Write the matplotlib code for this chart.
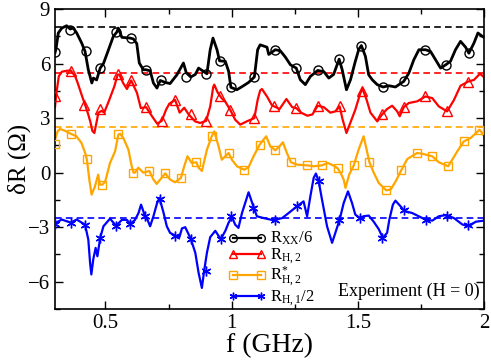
import matplotlib
matplotlib.use("Agg")
import matplotlib.pyplot as plt
from matplotlib.ticker import MultipleLocator

plt.rcParams['font.family'] = ['Liberation Serif', 'DejaVu Serif']
plt.rcParams['mathtext.fontset'] = 'custom'
plt.rcParams['mathtext.rm'] = 'Liberation Serif'
plt.rcParams['mathtext.it'] = 'Liberation Serif:italic'

# R_xx / 6 (black, noisy trace, centre line)
rxx_f = [0.300, 0.304, 0.313, 0.327, 0.346, 0.360, 0.373, 0.386, 0.406, 0.419, 0.432, 0.446,
         0.452, 0.465, 0.479, 0.492, 0.512, 0.531, 0.545, 0.551, 0.565, 0.598, 0.611, 0.624,
         0.634, 0.650, 0.660, 0.677, 0.690, 0.704, 0.717, 0.737, 0.756, 0.783, 0.809, 0.820,
         0.838, 0.856, 0.869, 0.902, 0.915, 0.926, 0.942, 0.952, 0.975, 0.988, 0.997, 1.021,
         1.047, 1.067, 1.090, 1.103, 1.113, 1.140, 1.147, 1.173, 1.193, 1.213, 1.233, 1.256,
         1.272, 1.292, 1.312, 1.341, 1.365, 1.385, 1.404, 1.426, 1.438, 1.455, 1.471, 1.490,
         1.504, 1.514, 1.530, 1.543, 1.557, 1.577, 1.600, 1.623, 1.649, 1.682, 1.702, 1.722,
         1.742, 1.768, 1.788, 1.808, 1.828, 1.848, 1.867, 1.887, 1.907, 1.927, 1.940, 1.960,
         1.976, 1.993, 2.000]
rxx_v = [6.6, 6.8, 7.68, 7.95, 8.08, 7.9, 7.95, 7.68, 7.12, 6.67, 5.66, 4.93,
         5.2, 5.1, 5.75, 6.0, 6.76, 7.49, 7.73, 7.95, 7.44, 7.4, 7.35, 7.1,
         6.03, 5.66, 5.66, 5.6, 4.93, 4.65, 5.07, 4.96, 4.9, 5.38, 6.03, 5.5,
         5.26, 5.4, 5.75, 5.44, 6.76, 7.4, 6.76, 6.15, 6.12, 5.57, 4.69, 4.56,
         4.78, 4.96, 5.26, 6.76, 7.03, 6.9, 6.5, 6.76, 6.7, 6.35, 5.93, 5.75,
         5.11, 4.84, 5.29, 5.62, 5.56, 5.2, 5.4, 6.24, 5.66, 4.56, 5.11, 6.12,
         6.79, 6.99, 6.4, 5.38, 5.11, 4.84, 4.71, 4.78, 4.71, 5.02, 5.47, 6.21,
         6.76, 6.76, 6.67, 6.21, 5.75, 5.93, 6.12, 6.76, 7.22, 6.9, 6.57, 7.12,
         7.68, 7.5, 7.44]
rxx_mf = [0.300, 0.360, 0.421, 0.479, 0.543, 0.600, 0.660, 0.720, 0.820, 0.899, 0.952, 0.997,
          1.090, 1.173, 1.256, 1.341, 1.426, 1.514, 1.600, 1.682, 1.768, 1.848, 1.940]
rxx_mv = [6.61, 7.85, 6.67, 5.75, 7.73, 7.4, 5.66, 5.07, 5.26, 5.44, 6.15, 4.69,
          5.26, 6.76, 5.75, 5.62, 6.24, 6.99, 4.71, 5.02, 6.76, 5.93, 6.57]

# R_H,2 (red)
rh2_f = [0.300, 0.305, 0.315, 0.327, 0.345, 0.362, 0.380, 0.390, 0.405, 0.415, 0.430, 0.440,
         0.448, 0.456, 0.465, 0.472, 0.485, 0.495, 0.515, 0.535, 0.548, 0.555, 0.570, 0.585,
         0.602, 0.625, 0.640, 0.661, 0.685, 0.705, 0.723, 0.740, 0.753, 0.776, 0.794, 0.812,
         0.830, 0.855, 0.875, 0.899, 0.915, 0.927, 0.931, 0.945, 0.960, 0.975, 0.994, 1.014,
         1.034, 1.060, 1.090, 1.103, 1.113, 1.120, 1.140, 1.160, 1.190, 1.217, 1.240, 1.256,
         1.275, 1.300, 1.320, 1.341, 1.365, 1.391, 1.411, 1.428, 1.440, 1.455, 1.470, 1.490,
         1.510, 1.519, 1.535, 1.550, 1.577, 1.596, 1.616, 1.636, 1.656, 1.666, 1.682, 1.702,
         1.735, 1.768, 1.795, 1.821, 1.854, 1.881, 1.907, 1.936, 1.960, 1.984, 2.000]
rh2_v = [3.6, 4.3, 5.3, 5.55, 5.6, 5.62, 5.3, 4.93, 4.3, 3.9, 3.28, 2.8,
         2.3, 2.18, 2.8, 3.3, 3.4, 3.3, 4.0, 4.74, 5.38, 5.4, 4.93, 4.6,
         5.07, 4.38, 3.55, 3.6, 3.09, 2.69, 2.85, 3.46, 3.79, 4.0, 3.3, 3.57,
         3.2, 2.82, 2.73, 2.85, 3.64, 4.71, 4.84, 4.4, 4.1, 3.9, 3.46, 2.91,
         2.64, 2.82, 3.0, 4.0, 4.52, 4.6, 4.19, 3.7, 3.5, 4.05, 3.6, 3.55,
         3.3, 3.13, 3.2, 3.68, 3.6, 3.3, 3.37, 3.64, 2.91, 2.18, 2.73, 3.46,
         4.38, 4.6, 4.0, 3.3, 2.82, 3.2, 3.5, 3.68, 3.37, 3.1, 3.6, 3.83,
         3.92, 4.19, 4.1, 3.64, 3.37, 4.0, 4.78, 5.0, 5.1, 5.44, 5.25]
rh2_mf = [0.300, 0.362, 0.415, 0.479, 0.551, 0.602, 0.661, 0.723, 0.776, 0.838, 0.899, 0.955,
          0.994, 1.090, 1.166, 1.256, 1.341, 1.428, 1.516, 1.596, 1.682, 1.768, 1.854, 1.936]
rh2_mv = [4.23, 5.6, 3.71, 3.52, 5.44, 5.07, 3.6, 2.82, 4.0, 3.2, 2.85, 4.23,
          3.46, 3.0, 3.64, 3.55, 3.68, 3.64, 4.5, 3.2, 3.6, 4.19, 3.37, 5.0]

# R*_H,2 (orange)
rs_f = [0.300, 0.310, 0.320, 0.340, 0.362, 0.385, 0.405, 0.419, 0.426, 0.436, 0.445, 0.458,
        0.471, 0.478, 0.488, 0.499, 0.518, 0.538, 0.551, 0.558, 0.571, 0.591, 0.604, 0.611,
        0.617, 0.630, 0.650, 0.674, 0.690, 0.703, 0.717, 0.737, 0.756, 0.776, 0.799, 0.812,
        0.825, 0.842, 0.860, 0.869, 0.882, 0.902, 0.922, 0.931, 0.948, 0.961, 0.988, 1.001,
        1.021, 1.050, 1.067, 1.087, 1.111, 1.137, 1.153, 1.173, 1.190, 1.203, 1.219, 1.235,
        1.259, 1.299, 1.325, 1.358, 1.381, 1.402, 1.420, 1.431, 1.444, 1.451, 1.466, 1.484,
        1.503, 1.523, 1.546, 1.563, 1.583, 1.603, 1.612, 1.630, 1.650, 1.672, 1.696, 1.735,
        1.755, 1.795, 1.821, 1.858, 1.874, 1.894, 1.920, 1.947, 1.982, 1.993, 2.000]
rs_v = [1.8, 2.27, 2.4, 2.3, 2.14, 2.0, 1.63, 1.1, 0.75, -0.38, -1.21, -0.77,
        -0.11, -0.66, -0.66, -0.48, 0.53, 1.17, 2.09, 2.14, 1.9, 1.26, 0.35, 0.0,
        0.0, 0.27, 0.0, 0.09, -0.38, -0.62, -0.38, -0.04, -0.38, -0.53, -0.29, 0.35,
        0.9, 0.53, 0.57, 0.27, 0.09, 1.26, 2.03, 2.27, 1.45, 0.71, 1.08, 0.71,
        0.35, 0.16, 0.3, 0.9, 1.54, 2.0, 1.45, 1.23, 1.45, 1.67, 1.08, 0.57,
        0.44, 0.4, 0.35, 0.4, 0.53, 0.4, 0.24, 0.0, -0.38, -0.84, -0.1, 0.4,
        1.26, 2.0, 0.57, 0.0, -0.57, -0.84, -0.97, -0.93, -0.48, 0.13, 0.75, 1.08,
        1.04, 0.9, 0.57, 0.35, 0.71, 1.17, 1.72, 1.9, 2.36, 2.18, 2.0]
rs_mf = [0.300, 0.362, 0.426, 0.488, 0.551, 0.610, 0.674, 0.735, 0.799, 0.860, 0.922, 0.988,
         1.050, 1.111, 1.173, 1.235, 1.299, 1.358, 1.420, 1.484, 1.546, 1.612, 1.672, 1.735,
         1.795, 1.858, 1.920, 1.982]
rs_mv = [1.58, 2.14, 0.75, -0.66, 2.14, 0.0, 0.09, -0.04, -0.29, 0.57, 2.03, 1.08,
         0.16, 1.54, 1.23, 0.57, 0.4, 0.4, 0.24, 0.4, 0.57, -0.97, 0.13, 1.08,
         0.9, 0.35, 1.72, 2.36]

# R_H,1 / 2 (blue)
rh1_f = [0.300, 0.304, 0.327, 0.362, 0.386, 0.419, 0.432, 0.439, 0.444, 0.452, 0.461, 0.468,
         0.479, 0.492, 0.518, 0.542, 0.565, 0.585, 0.598, 0.617, 0.631, 0.641, 0.657, 0.666,
         0.677, 0.690, 0.704, 0.714, 0.730, 0.743, 0.756, 0.776, 0.793, 0.803, 0.816, 0.838,
         0.856, 0.869, 0.882, 0.891, 0.902, 0.915, 0.935, 0.957, 0.975, 0.988, 1.001, 1.014,
         1.027, 1.041, 1.058, 1.067, 1.087, 1.100, 1.127, 1.166, 1.200, 1.226, 1.259, 1.285,
         1.299, 1.312, 1.325, 1.334, 1.345, 1.358, 1.378, 1.398, 1.411, 1.428, 1.444, 1.461,
         1.477, 1.490, 1.508, 1.523, 1.543, 1.563, 1.583, 1.599, 1.616, 1.625, 1.639, 1.649,
         1.669, 1.686, 1.715, 1.768, 1.795, 1.821, 1.850, 1.881, 1.914, 1.940, 1.967, 2.000]
rh1_v = [-2.8, -2.75, -2.58, -2.75, -2.58, -2.86, -3.68, -4.96, -5.6, -4.74, -4.14, -4.6,
         -3.59, -2.95, -2.53, -2.92, -2.6, -2.6, -2.82, -2.6, -2.22, -1.76, -2.4, -2.58,
         -2.95, -2.4, -1.7, -1.39, -2.2, -2.95, -3.31, -3.46, -3.55, -3.07, -3.0, -3.64,
         -4.41, -5.51, -6.34, -5.4, -4.41, -3.55, -3.2, -3.66, -3.2, -2.75, -2.44, -2.86,
         -3.04, -2.22, -1.48, -1.08, -1.89, -2.4, -2.5, -2.62, -2.5, -2.22, -1.85, -1.58,
         -2.4, -1.3, -0.29, -0.05, -0.48, -1.48, -2.95, -3.86, -3.31, -2.58, -1.67, -1.03,
         -1.67, -2.31, -2.49, -2.4, -2.36, -2.7, -3.11, -3.59, -3.31, -2.58, -1.76, -1.54,
         -1.85, -2.12, -2.22, -2.58, -2.64, -2.4, -2.33, -2.5, -2.85, -2.95, -2.7, -2.64]
rh1_mf = [0.300, 0.362, 0.419, 0.479, 0.542, 0.598, 0.657, 0.716, 0.776, 0.838, 0.897, 0.957,
          0.999, 1.085, 1.170, 1.259, 1.345, 1.426, 1.509, 1.597, 1.684, 1.770, 1.852, 1.936]
rh1_mv = [-2.8, -2.75, -2.86, -3.59, -2.92, -2.82, -2.4, -1.45, -3.46, -3.64, -5.4, -3.66,
          -2.4, -1.95, -2.62, -1.83, -0.48, -2.62, -2.49, -3.59, -2.06, -2.6, -2.37, -2.9]

# reference levels (dashed)
levels = [8.0, 5.5, 2.5, -2.5]
labels = ['R$_{\\rm XX}$/6', 'R$_{\\rm H,2}$', 'R$^{*}_{\\rm H,2}$', 'R$_{\\rm H,1}$/2']
colors = ['black', '#ff0000', '#ffa500', '#0000ff']
markers = ['o', '^', 's', (6, 2, 0)]

fig = plt.figure(figsize=(4.91, 3.62), dpi=100)
ax = fig.add_axes([55 / 491, 1 - 309 / 362, 429 / 491, 300 / 362])

for lv, c in zip(levels, colors):
    ax.axhline(lv, color=c, lw=1.2, ls=(0, (4, 2.5)), zorder=1)

series = [
    (rxx_f, rxx_v, rxx_mf, rxx_mv, 6.5, 2.0),
    (rh2_f, rh2_v, rh2_mf, rh2_mv, 6.5, 1.6),
    (rs_f, rs_v, rs_mf, rs_mv, 5.5, 1.6),
    (rh1_f, rh1_v, rh1_mf, rh1_mv, 7, 1.6),
]
for (xf, yv, mf, mv, ms, lw), c, mk in zip(series, colors, markers):
    ax.plot(xf, yv, color=c, lw=lw, zorder=2)
    mfc = c if mk == (6, 2, 0) else 'none'
    ax.plot(mf, mv, ls='none', marker=mk, ms=ms, mfc=mfc, mec=c, mew=1.0, zorder=3)

# legend drawn by hand so the rows sit where the original has them
leg_rows = [0.238, 0.182, 0.112, 0.044]
for yr, c, mk, lab in zip(leg_rows, colors, markers, labels):
    mfc = c if mk == (6, 2, 0) else 'none'
    ax.plot([0.415, 0.48], [yr, yr], transform=ax.transAxes, color=c, lw=1.6,
            marker=mk, ms=5.5, mfc=mfc, mec=c, mew=1.0, zorder=4, clip_on=False)
    ax.text(0.50, yr - 0.017, lab, transform=ax.transAxes, fontsize=12,
            ha='left', va='baseline', zorder=4)

ax.set_xlim(0.3, 2.0)
ax.set_ylim(-7.5, 9)
ax.xaxis.set_minor_locator(MultipleLocator(0.25))
ax.yaxis.set_major_locator(MultipleLocator(3))
ax.yaxis.set_minor_locator(MultipleLocator(1.5))
ax.set_xticks([0.5, 1, 1.5, 2])
ax.set_xticklabels(['0.5', '1', '1.5', '2'])
ax.tick_params(which='both', direction='in', top=True, right=True, labelsize=15)
ax.tick_params(which='major', length=6, width=1)
ax.tick_params(which='minor', length=3.5, width=1)
for s in ax.spines.values():
    s.set_linewidth(1.2)

ax.set_xlabel('f (GHz)', fontsize=20, labelpad=0)
ax.set_ylabel('δR (Ω)', fontsize=18, labelpad=-2)

ax.text(0.99, 0.045, 'Experiment (H = 0)', transform=ax.transAxes,
        ha='right', va='baseline', fontsize=13)

fig.savefig('out.png', dpi=100)
